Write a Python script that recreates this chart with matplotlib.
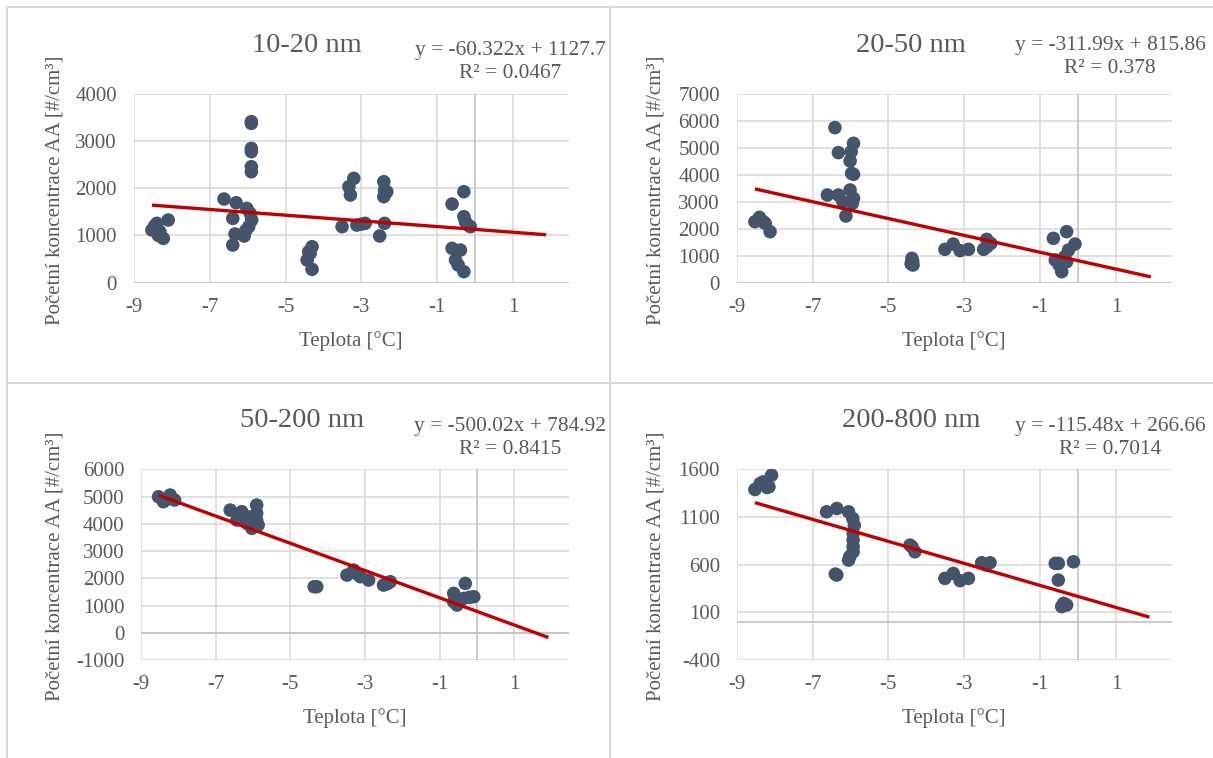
import matplotlib
matplotlib.use("Agg")
import matplotlib.pyplot as plt
from matplotlib.lines import Line2D
import numpy as np

plt.rcParams['font.family'] = ['Liberation Serif', 'DejaVu Serif']

# ---------------- data ----------------
titles = ["10-20 nm", "20-50 nm", "50-200 nm", "200-800 nm"]
slopes = [-60.322, -311.99, -500.02, -115.48]
intercepts = [1127.7, 815.86, 784.92, 266.66]
eq_texts = ["y = -60.322x + 1127.7", "y = -311.99x + 815.86",
            "y = -500.02x + 784.92", "y = -115.48x + 266.66"]
r2_texts = ["R² = 0.0467", "R² = 0.378", "R² = 0.8415", "R² = 0.7014"]

x1 = [-8.52, -8.45, -8.39, -8.31, -8.22, -8.09, -8.35,
      -6.62, -6.30, -6.39, -6.39, -6.33, -6.09, -6.02, -5.93, -5.89, -5.97, -6.05,
      -5.90, -5.90, -5.90, -5.90, -5.90, -5.90,
      -4.30, -4.39, -4.43, -4.30, -4.35,
      -3.51, -3.29, -3.33, -3.20, -3.12, -2.90, -3.00,
      -2.41, -2.39, -2.33, -2.41, -2.39, -2.52,
      -0.61, -0.30, -0.30, -0.26, -0.13, -0.61, -0.39, -0.52, -0.45, -0.30, -0.20]
y1 = [1115, 1200, 1256, 1079, 938, 1326, 1000,
      1771, 1693, 1362, 797, 1030, 988, 1573, 1467, 1326, 1185, 1100,
      3408, 3372, 2843, 2773, 2455, 2349,
      762, 656, 480, 282, 621,
      1185, 1855, 2032, 2208, 1220, 1256, 1240,
      2138, 1961, 1926, 1820, 1256, 988,
      1665, 1926, 1397, 1291, 1185, 727, 691, 480, 374, 233, 1230]

x2 = [-8.52, -8.40, -8.30, -8.25, -8.12,
      -6.41, -6.32, -5.92, -5.98, -6.01, -5.97, -5.92, -6.61, -6.32, -6.01, -5.92, -5.95, -6.12, -6.20,
      -4.38, -4.35, -4.40, -4.36,
      -3.51, -3.29, -3.11, -2.89,
      -2.49, -2.41, -2.30, -2.40,
      -0.65, -0.30, -0.08, -0.25, -0.60, -0.50, -0.43, -0.35, -0.30]
y2 = [2260, 2421, 2260, 2198, 1890,
      5743, 4817, 5162, 4854, 4508, 4050, 4014, 3248, 3248, 3433, 3125, 2940, 2470, 3000,
      902, 655, 700, 800,
      1235, 1432, 1186, 1235,
      1235, 1606, 1457, 1334,
      1643, 1890, 1432, 1210, 840, 655, 408, 963, 778]

x3 = [-8.53, -8.22, -8.40, -8.10, -8.30,
      -6.61, -6.30, -6.43, -5.90, -5.90, -5.90, -6.03, -6.16, -5.86, -6.10,
      -4.36, -4.29,
      -3.48, -3.30, -3.12, -2.90, -3.20,
      -2.50, -2.32, -2.40,
      -0.62, -0.31, -0.08, -0.53, -0.35, -0.62, -0.20]
y3 = [4994, 5055, 4810, 4872, 4900,
      4504, 4443, 4137, 4688, 4382, 4137, 3831, 4015, 3953, 4250,
      1689, 1689,
      2117, 2301, 2056, 1934, 2150,
      1750, 1873, 1800,
      1444, 1811, 1322, 1016, 1261, 1138, 1300]

x4 = [-8.52, -8.38, -8.20, -8.08, -8.30, -8.15,
      -6.63, -6.36, -6.05, -5.94, -5.90, -5.93, -5.93, -5.93, -5.93, -6.02, -6.05, -6.36, -6.40,
      -4.38, -4.30, -4.43,
      -3.51, -3.29, -3.11, -2.89,
      -2.54, -2.32, -2.42,
      -0.60, -0.52, -0.12, -0.52, -0.38, -0.30, -0.43]
y4 = [1388, 1451, 1409, 1538, 1468, 1416,
      1154, 1189, 1154, 1084, 1014, 927, 857, 788, 735, 683, 648, 491, 501,
      788, 735, 805,
      456, 508, 432, 456,
      620, 620, 596,
      613, 613, 630, 438, 194, 177, 160]

xs = [x1, x2, x3, x4]
ys = [y1, y2, y3, y4]

x_ticks = [-9, -7, -5, -3, -1, 1]
y_ticks = [list(range(0, 4001, 1000)),
           list(range(0, 7001, 1000)),
           list(range(-1000, 6001, 1000)),
           list(range(-400, 1601, 500))]
x_label = "Teplota [°C]"
y_label = "Početní koncentrace AA [#/cm³]"

# ---------------- layout ----------------
W, H = 1213, 758
fig = plt.figure(figsize=(W / 100, H / 100), dpi=100)
fig.patch.set_facecolor("white")

def rect(l, r, t, b):
    return [l / W, 1 - b / H, (r - l) / W, (b - t) / H]

ax_px = [(133.7, 569, 93.7, 282.7), (736.7, 1171.7, 93.7, 282.7),
         (141, 569, 469.3, 660), (736.7, 1171.7, 469.3, 660)]
title_pos = [(307, 46), (911, 46), (302, 420), (911, 420)]
eq_pos = [(510, 62), (1110, 57), (510, 438), (1110, 438)]
ylab_pos = [(55, 190), (656, 190), (55, 566), (656, 566)]
xlab_pos = [(351, 341), (954, 341), (355, 718), (954, 718)]

TXT = "#595959"
GRID = "#d9d9d9"
AXL = "#bfbfbf"
MARK = "#44546A"
TREND = "#C00000"

for i in range(4):
    ax = fig.add_axes(rect(*ax_px[i]))
    ax.set_facecolor("white")
    for s in ax.spines.values():
        s.set_visible(False)
    ax.set_xlim(-9, 2.47)
    yt = y_ticks[i]
    ax.set_ylim(yt[0], yt[-1])
    ax.set_xticks(x_ticks)
    ax.set_yticks(yt)
    ax.set_xticklabels([str(v) for v in x_ticks])
    ax.set_yticklabels([str(v) for v in yt])
    ax.tick_params(length=0, labelsize=15, colors=TXT)
    ax.tick_params(axis='x', pad=11)
    ax.tick_params(axis='y', pad=12)
    ax.grid(True, color=GRID, linewidth=1.1, zorder=0)
    ax.set_axisbelow(True)
    ax.axvline(0, color=AXL, linewidth=1.1, zorder=1)
    ax.axhline(0, color=AXL, linewidth=1.1, zorder=1)
    ax.scatter(xs[i], ys[i], s=95, color=MARK, edgecolors='none', zorder=3)
    xmin = min(xs[i])
    xmax = max(xs[i]) + 2.0
    tx = np.array([xmin, xmax])
    ax.plot(tx, slopes[i] * tx + intercepts[i], color=TREND, linewidth=2.4,
            solid_capstyle='butt', zorder=4)

    fig.text(title_pos[i][0] / W, 1 - title_pos[i][1] / H, titles[i],
             ha='center', va='center', fontsize=20.5, color=TXT)
    fig.text(eq_pos[i][0] / W, 1 - eq_pos[i][1] / H,
             eq_texts[i] + "\n" + r2_texts[i], ha='center', va='center',
             multialignment='center', fontsize=15.4, color=TXT, linespacing=1.35)
    fig.text(ylab_pos[i][0] / W, 1 - ylab_pos[i][1] / H, y_label,
             ha='center', va='center', rotation=90, fontsize=15, color=TXT)
    fig.text(xlab_pos[i][0] / W, 1 - xlab_pos[i][1] / H, x_label,
             ha='center', va='center', fontsize=15, color=TXT)

# panel borders
def hline(y, x0, x1):
    fig.add_artist(Line2D([x0 / W, x1 / W], [1 - y / H, 1 - y / H],
                          color=GRID, linewidth=1.5, transform=fig.transFigure))

def vline(x, y0, y1):
    fig.add_artist(Line2D([x / W, x / W], [1 - y0 / H, 1 - y1 / H],
                          color=GRID, linewidth=1.5, transform=fig.transFigure))

hline(7, 7, W)
hline(383, 7, W)
vline(7, 7, H)
vline(610, 7, H)

fig.savefig("out.png", dpi=100, facecolor="white")
